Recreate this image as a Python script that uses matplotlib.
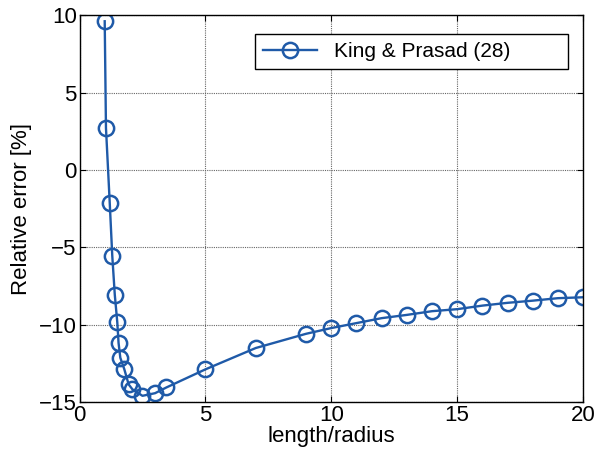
import numpy as np
import matplotlib
matplotlib.use("Agg")
import matplotlib.pyplot as plt

plt.rcParams['font.family'] = ['Liberation Sans', 'DejaVu Sans']

# length/radius and relative error [%]
ratio = [1.0, 1.05, 1.2, 1.3, 1.4, 1.5, 1.55, 1.62, 1.78, 1.95, 2.1, 2.5, 3.0, 3.45,
         5, 7, 9, 10, 11, 12, 13, 14, 15, 16, 17, 18, 19, 20]
rel_err = [9.62, 2.72, -2.13, -5.53, -8.05, -9.85, -11.17, -12.13, -12.88, -13.85,
           -14.17, -14.59, -14.42, -14.05, -12.88, -11.5, -10.58, -10.21, -9.89,
           -9.57, -9.36, -9.12, -8.99, -8.76, -8.58, -8.44, -8.28, -8.22]
label = "King & Prasad (28)"

blue = "#1f5aa8"

fig = plt.figure(figsize=(5.98, 4.66), dpi=100)
ax = fig.add_axes([0.133, 0.137, 0.842, 0.830])

ax.plot(ratio, rel_err, '-o', color=blue, lw=1.7, markersize=11,
        markerfacecolor='none', markeredgewidth=1.8, label=label)

ax.set_xlim(0, 20)
ax.set_ylim(-15, 10)
ax.set_xticks([0, 5, 10, 15, 20])
ax.set_yticks([-15, -10, -5, 0, 5, 10])
ax.grid(True, color='0.4', linestyle=(0, (1, 1)), lw=0.8)
ax.tick_params(direction='in', top=True, right=True, length=4, labelsize=16, pad=2)
for s in ax.spines.values():
    s.set_linewidth(1.0)

ax.set_xlabel("length/radius", fontsize=16, labelpad=0)
ax.set_ylabel("Relative error [%]", fontsize=16, labelpad=5)

leg = ax.legend(loc='center', bbox_to_anchor=(0.348, 0.843, 0.622, 0.127),
                mode='expand', fancybox=False, edgecolor='black', fontsize=15,
                handlelength=2.6, framealpha=1, borderaxespad=0)
leg.get_frame().set_linewidth(1.0)

fig.savefig("out.png", dpi=100)
